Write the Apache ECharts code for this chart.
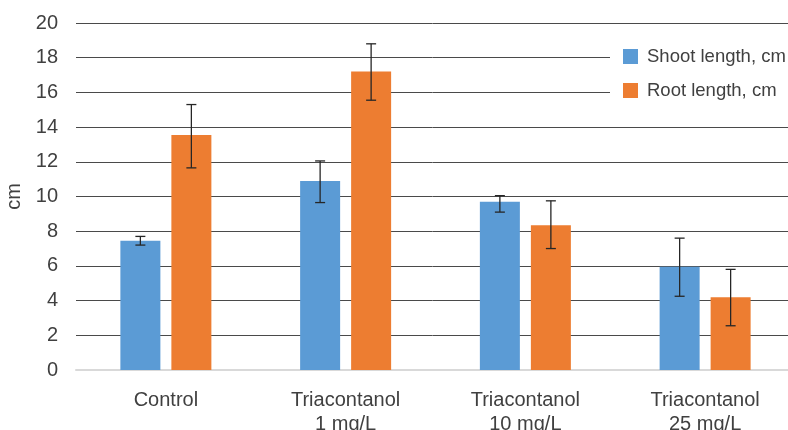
<!DOCTYPE html>
<html>
<head>
<meta charset="utf-8">
<script src="https://cdn.jsdelivr.net/npm/echarts@6/dist/echarts.min.js"></script>
<style>
html,body{margin:0;padding:0;background:#fff;}
#chart{width:788px;height:430px;}
</style>
</head>
<body>
<div id="chart"></div>
<script>
var categories = ['Control', 'Triacontanol\n1 mg/L', 'Triacontanol\n10 mg/L', 'Triacontanol\n25 mg/L'];
var shootMean = [7.45, 10.9, 9.7, 5.95];
var shootLow  = [7.2, 9.65, 9.1, 4.25];
var shootHigh = [7.7, 12.05, 10.05, 7.6];
var rootMean  = [13.55, 17.2, 8.35, 4.2];
var rootLow   = [11.65, 15.55, 7.0, 2.55];
var rootHigh  = [15.3, 18.8, 9.75, 5.8];
var yTicks = [0, 2, 4, 6, 8, 10, 12, 14, 16, 18, 20];

var BAR_W = 40, BAR_GAP = 11;
var FONT = '"Liberation Sans", Arial, sans-serif';

function errData(low, high) {
  return categories.map(function (c, i) { return [i, low[i], high[i]]; });
}
function errRender(offset) {
  return function (params, api) {
    var i = api.value(0);
    var lo = api.coord([i, api.value(1)]);
    var hi = api.coord([i, api.value(2)]);
    var x = lo[0] + offset;
    var cap = 5;
    var st = { stroke: '#262626', lineWidth: 1.3 };
    return {
      type: 'group',
      children: [
        { type: 'line', shape: { x1: x, y1: lo[1], x2: x, y2: hi[1] }, style: st },
        { type: 'line', shape: { x1: x - cap, y1: lo[1], x2: x + cap, y2: lo[1] }, style: st },
        { type: 'line', shape: { x1: x - cap, y1: hi[1], x2: x + cap, y2: hi[1] }, style: st }
      ]
    };
  };
}

var chart = echarts.init(document.getElementById('chart'));
var off = (BAR_W + BAR_GAP) / 2;
chart.setOption({
  animation: false,
  backgroundColor: '#fff',
  textStyle: { fontFamily: FONT },
  grid: { left: 76, right: -7, top: 23, bottom: 60, containLabel: false, outerBoundsMode: 'none' },
  legend: {
    orient: 'vertical',
    left: 610, top: 40,
    padding: [7, 40, 7, 13],
    itemWidth: 15, itemHeight: 15, itemGap: 15,
    backgroundColor: '#fff',
    icon: 'rect',
    textStyle: { fontSize: 18.5, lineHeight: 15, color: '#404040', fontFamily: FONT, padding: [0, 0, 0, 4] },
    data: ['Shoot length, cm', 'Root length, cm']
  },
  xAxis: {
    type: 'category',
    data: categories,
    axisLine: { lineStyle: { color: '#d9d9d9', width: 2 } },
    axisTick: { show: false },
    axisLabel: { fontSize: 20, color: '#404040', fontFamily: FONT, margin: 18, lineHeight: 24 }
  },
  yAxis: {
    type: 'value',
    min: yTicks[0], max: yTicks[yTicks.length - 1], interval: 2,
    name: 'cm', nameLocation: 'middle', nameGap: 44,
    nameTextStyle: { fontSize: 20, color: '#404040', fontFamily: FONT },
    axisLine: { show: false },
    axisTick: { show: false },
    axisLabel: { fontSize: 20, color: '#404040', fontFamily: FONT, margin: 18 },
    splitLine: { lineStyle: { color: '#4a4a4a', width: 1 } }
  },
  series: [
    { name: 'Shoot length, cm', type: 'bar', data: shootMean, barWidth: BAR_W, barGap: (BAR_GAP / BAR_W * 100) + '%',
      itemStyle: { color: '#5B9BD5' }, z: 2 },
    { name: 'Root length, cm', type: 'bar', data: rootMean, barWidth: BAR_W,
      itemStyle: { color: '#ED7D31' }, z: 2 },
    { type: 'custom', renderItem: errRender(-off), data: errData(shootLow, shootHigh), z: 3, silent: true },
    { type: 'custom', renderItem: errRender(off), data: errData(rootLow, rootHigh), z: 3, silent: true }
  ]
});
</script>
</body>
</html>
